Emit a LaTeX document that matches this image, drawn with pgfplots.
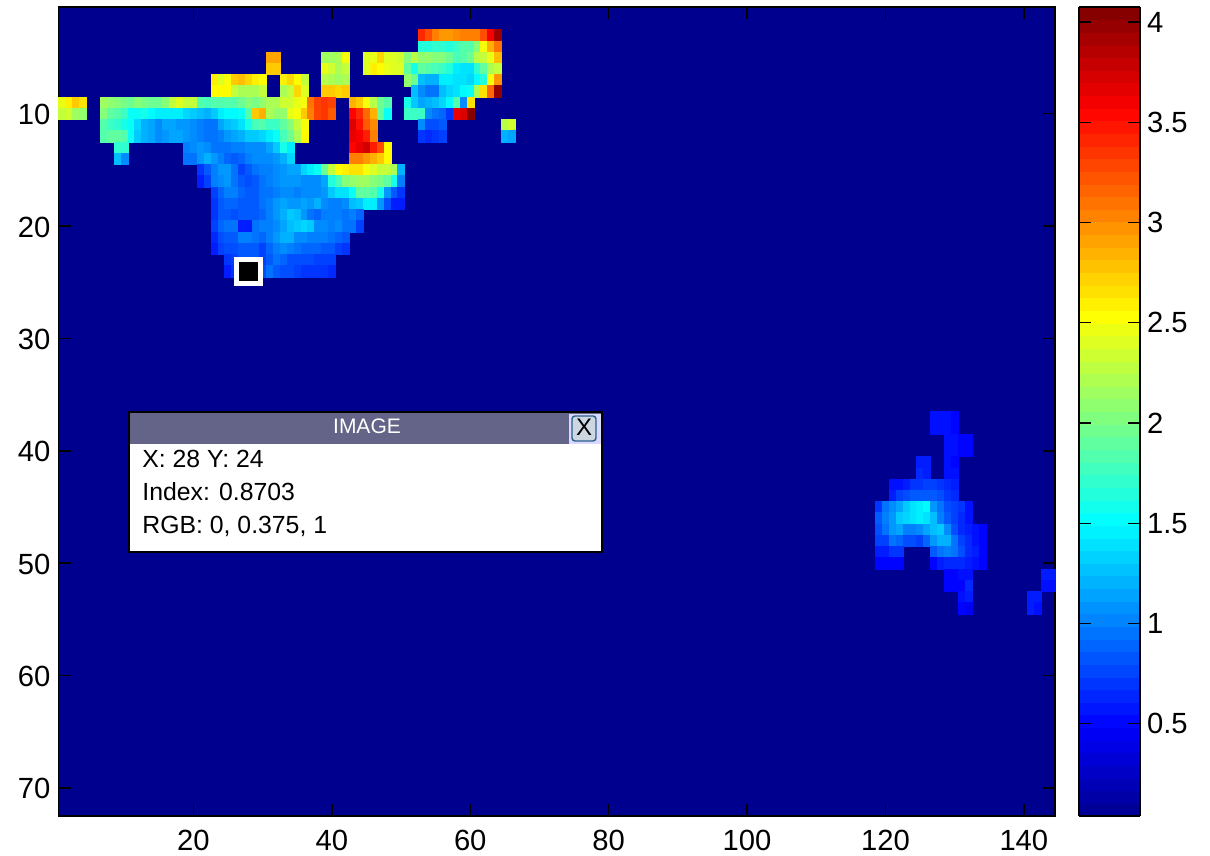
\documentclass[border=0pt]{standalone}
\usepackage{pgfplots}
\usepackage{fontspec}
\setmainfont{Liberation Sans}
\pgfplotsset{compat=1.18}
\newlength\pxu \setlength\pxu{0.5pt}
\pgfplotsset{
  colormap={mj}{rgb(0pt)=(0,0,.5625) rgb(7pt)=(0,0,1) rgb(23pt)=(0,1,1) rgb(39pt)=(1,1,0) rgb(55pt)=(1,0,0) rgb(63pt)=(.5,0,0)},
  cell/.style={scatter, only marks, mark=square*, point meta=explicit,
    scatter/use mapped color={draw=mapped color,fill=mapped color},
    mark size=3.5\pxu, mark options={yscale=1.624,line width=0.1pt}},
}
\newcommand\R[3]{\addplot[cell] table[row sep=crcr,header=false,x expr=\coordindex+#2,y expr=#1,meta index=0]{#3};}
\begin{document}
\begin{tikzpicture}
\path[use as bounding box] (0,0) rectangle (605pt,428pt);
\begin{axis}[
  at={(29.25pt,20pt)}, anchor=south west, scale only axis,
  width=996.5\pxu, height=809\pxu,
  xmin=0.5, xmax=144.5, ymin=0.5, ymax=72.5, y dir=reverse,
  xtick={20,40,...,140}, ytick={10,20,...,70},
  tick align=inside, tick pos=both, major tick length=12\pxu,
  tick style={black,line width=0.7pt},
  axis line style={line width=0.8pt},
  xticklabel pos=bottom, yticklabel pos=left,
  tick label style={font=\fontsize{14.6}{16}\selectfont},
  /pgf/number format/assume math mode=true,
  xticklabel style={yshift=-3.5pt},
  yticklabel style={xshift=-0.5pt,yshift=-0.5pt},
  axis background/.style={fill={rgb,1:red,0;green,0;blue,.5625}},
  colormap name=mj, point meta min=0.04, point meta max=4.075,
  colorbar sampled,
  colorbar style={
    samples=65,
    at={(1.02409,0)}, anchor=south west,
    scale only axis, width=61\pxu, height=809\pxu,
    ytick={0.5,1,...,4},
    tick align=inside, ytick pos=both, yticklabel pos=right,
    major tick length=12\pxu,
    tick style={black,line width=0.7pt},
    axis line style={line width=0.8pt},
    yticklabel style={font=\fontsize{14.6}{16}\selectfont,/pgf/number format/fixed,/pgf/number format/precision=1,/pgf/number format/assume math mode=true},
  },
]
\R{3}{53}{3.4\\3.25\\3.05\\2.95\\2.95\\3.0\\3.05\\3.05\\3.05\\3.25\\3.6\\3.95\\}
\R{4}{53}{1.65\\1.65\\1.7\\1.7\\1.65\\1.75\\1.85\\1.85\\2.05\\2.5\\2.85\\3.1\\}
\R{5}{31}{2.9\\2.9\\}
\R{5}{39}{2.15\\2.15\\2.2\\2.5\\}
\R{5}{45}{2.4\\2.45\\2.7\\2.4\\2.4\\2.35\\2.05\\2.25\\2.1\\2.1\\2.05\\2.05\\1.95\\1.8\\1.85\\1.95\\2.25\\2.3\\2.45\\2.8\\}
\R{6}{31}{2.75\\2.75\\}
\R{6}{39}{2.45\\2.35\\2.2\\2.3\\}
\R{6}{45}{2.4\\2.6\\2.55\\2.45\\2.4\\2.4\\1.9\\1.6\\1.9\\1.85\\1.8\\1.75\\1.65\\1.45\\1.4\\1.4\\1.7\\1.9\\2.2\\2.3\\}
\R{7}{23}{2.6\\2.4\\2.5\\2.75\\2.8\\2.7\\2.6\\2.55\\}
\R{7}{33}{2.6\\2.7\\2.55\\2.3\\}
\R{7}{39}{2.25\\2.2\\2.15\\2.2\\}
\R{7}{51}{2.1\\1.95\\1.25\\1.2\\1.2\\1.45\\1.45\\1.4\\1.4\\1.35\\1.5\\1.65\\2.5\\2.95\\}
\R{8}{23}{2.55\\2.55\\2.55\\2.3\\2.2\\2.2\\2.2\\2.3\\}
\R{8}{33}{2.2\\2.3\\2.7\\2.4\\}
\R{8}{39}{2.75\\2.75\\2.7\\2.75\\}
\R{8}{52}{1.25\\1.05\\.95\\.95\\1.25\\1.35\\1.4\\1.5\\1.55\\2.2\\2.65\\3.15\\4.0\\}
\R{9}{1}{2.45\\2.6\\2.75\\2.65\\}
\R{9}{7}{2.15\\2.1\\2.05\\2.0\\1.95\\2.05\\2.0\\1.95\\1.95\\2.05\\2.3\\2.4\\2.3\\2.3\\1.85\\1.8\\1.85\\1.85\\1.85\\1.85\\1.95\\2.05\\2.0\\2.1\\2.2\\2.2\\2.35\\2.35\\2.45\\2.5\\3.1\\3.3\\3.35\\3.3\\}
\R{9}{43}{2.85\\2.75\\2.5\\2.25\\1.95\\1.85\\}
\R{9}{51}{1.6\\1.3\\1.15\\1.2\\1.25\\1.35\\1.5\\1.85\\1.05\\2.65\\}
\R{10}{1}{2.3\\2.35\\2.15\\2.1\\}
\R{10}{7}{2.05\\1.9\\1.85\\1.75\\1.55\\1.55\\1.6\\1.5\\1.45\\1.45\\1.45\\1.45\\1.35\\1.3\\1.25\\1.2\\1.3\\1.45\\1.5\\1.5\\1.55\\1.85\\2.75\\2.85\\2.2\\2.1\\2.1\\2.45\\2.5\\2.75\\3.05\\3.3\\3.35\\3.2\\}
\R{10}{43}{3.55\\3.4\\3.15\\2.85\\1.9\\1.55\\}
\R{10}{51}{1.75\\1.75\\1.75\\1.05\\.95\\.9\\.7\\3.65\\3.7\\4.05\\}
\R{11}{7}{1.85\\1.75\\1.7\\1.6\\1.55\\1.35\\1.2\\1.15\\1.05\\1.15\\1.15\\1.1\\1.1\\1.05\\1.0\\.95\\.95\\1.15\\1.25\\1.3\\1.4\\1.6\\1.8\\1.85\\1.75\\1.75\\1.9\\2.05\\2.3\\2.5\\}
\R{11}{43}{3.7\\3.5\\3.2\\3.0\\}
\R{11}{53}{1.05\\.8\\.8\\.85\\}
\R{11}{65}{2.25\\2.35\\}
\R{12}{7}{1.85\\1.9\\1.9\\1.85\\1.55\\1.3\\1.2\\1.15\\1.05\\1.1\\1.15\\1.15\\1.1\\1.05\\1.0\\.95\\.95\\1.0\\1.1\\1.15\\1.2\\1.3\\1.3\\1.35\\1.45\\1.55\\1.8\\1.95\\2.2\\2.55\\}
\R{12}{43}{3.65\\3.6\\3.45\\3.05\\}
\R{12}{53}{.7\\.65\\.7\\.75\\}
\R{12}{65}{1.2\\1.15\\}
\R{13}{9}{1.7\\1.7\\}
\R{13}{19}{1.0\\1.05\\1.1\\1.05\\.95\\.95\\.95\\1.0\\1.0\\1.05\\1.05\\1.05\\1.15\\1.3\\1.6\\1.45\\}
\R{13}{43}{3.55\\3.65\\3.75\\3.45\\3.25\\2.55\\}
\R{14}{9}{1.25\\1.05\\}
\R{14}{19}{.95\\.95\\1.1\\1.2\\1.1\\1.0\\.9\\.85\\.9\\1.0\\1.05\\1.05\\1.05\\1.1\\1.2\\1.35\\}
\R{14}{43}{3.05\\3.05\\2.95\\2.85\\2.75\\2.55\\}
\R{15}{21}{.7\\.85\\1.0\\1.1\\1.1\\.95\\.75\\.85\\.95\\1.0\\1.0\\1.05\\1.1\\1.15\\1.15\\1.35\\1.45\\1.55\\1.95\\2.3\\2.55\\2.6\\2.65\\2.65\\2.5\\2.4\\2.3\\2.3\\2.2\\1.2\\}
\R{16}{21}{.6\\.75\\1.0\\1.05\\1.1\\.95\\.85\\.8\\.85\\.95\\1.0\\1.05\\1.1\\1.1\\1.1\\1.05\\1.05\\1.05\\1.15\\1.65\\1.8\\2.05\\2.1\\2.15\\2.15\\2.05\\2.0\\1.9\\1.6\\1.0\\}
\R{17}{23}{.75\\.9\\1.0\\1.0\\.9\\.85\\.85\\.95\\.95\\1.0\\1.05\\1.05\\1.0\\1.05\\1.05\\1.05\\1.1\\1.3\\1.4\\1.4\\1.55\\1.9\\1.9\\1.85\\1.6\\1.1\\.85\\.7\\}
\R{18}{23}{.7\\.85\\.9\\.9\\.85\\.85\\.85\\.95\\1.0\\1.1\\1.15\\1.1\\1.1\\1.15\\1.1\\1.2\\1.05\\1.0\\1.0\\1.05\\1.25\\1.3\\1.45\\1.45\\1.1\\.8\\.6\\.6\\}
\R{19}{23}{.7\\.85\\.85\\.8\\.85\\.85\\.85\\.9\\1.0\\1.1\\1.2\\1.3\\1.25\\1.1\\.95\\.9\\1.0\\1.0\\1.0\\.95\\1.0\\.9\\}
\R{20}{23}{.75\\.9\\.95\\.95\\.6\\.6\\.95\\1.0\\1.0\\1.05\\1.15\\1.25\\1.3\\1.35\\1.3\\1.05\\1.05\\1.0\\1.05\\.95\\.95\\.75\\}
\R{21}{23}{.65\\.8\\.85\\.85\\1.0\\1.0\\.95\\.9\\1.0\\1.1\\1.2\\1.2\\1.05\\1.05\\1.0\\1.0\\1.0\\.95\\.9\\.85\\}
\R{22}{23}{.6\\.75\\.8\\.8\\.85\\.85\\.85\\.75\\.9\\1.0\\1.05\\1.0\\.95\\.9\\.9\\.9\\.85\\.85\\.75\\.7\\}
\R{23}{25}{.7\\.75\\.85\\.85\\.85\\.75\\.85\\.95\\.9\\.8\\.8\\.8\\.8\\.75\\.75\\.75\\}
\R{24}{25}{.6\\.7\\.87\\.87\\.87\\.8\\.95\\.85\\.8\\.8\\.75\\.7\\.7\\.7\\.7\\.65\\}
% right-hand blob
\R{37}{127}{.55\\.55\\.55\\.5\\}
\R{38}{127}{.55\\.55\\.55\\.5\\}
\R{39}{129}{.55\\.55\\.5\\.5\\}
\R{40}{129}{.55\\.55\\.5\\.5\\}
\R{41}{125}{.6\\.6\\}
\R{41}{129}{.55\\.5\\}
\R{42}{125}{.65\\.6\\}
\R{42}{129}{.55\\.55\\}
\R{43}{121}{.55\\.55\\.6\\.7\\.7\\.75\\.75\\.7\\.65\\.6\\}
\R{44}{121}{.6\\.75\\.8\\.85\\.85\\.85\\.85\\.8\\.7\\.65\\}
\R{45}{119}{.7\\.95\\1.05\\1.15\\1.3\\1.4\\1.45\\1.5\\1.1\\.95\\.8\\.75\\.7\\.55\\}
\R{46}{119}{.85\\1.0\\1.1\\1.3\\1.35\\1.4\\1.45\\1.4\\1.25\\1.0\\.85\\.75\\.65\\.55\\}
\R{47}{119}{.8\\.95\\1.1\\1.15\\1.0\\1.0\\1.05\\1.15\\1.25\\1.3\\1.05\\.8\\.65\\.6\\.55\\.5\\}
\R{48}{119}{.75\\.75\\.95\\.9\\.8\\.8\\.75\\.9\\1.1\\1.2\\1.2\\.95\\.75\\.65\\.55\\.5\\}
\R{49}{119}{.6\\.6\\.7\\.7\\}
\R{49}{127}{.85\\.95\\1.0\\.95\\.8\\.65\\.6\\.5\\}
\R{50}{119}{.5\\.5\\.5\\.5\\}
\R{50}{127}{.5\\.6\\.65\\.65\\.65\\.6\\.55\\.5\\}
\R{51}{129}{.5\\.5\\.55\\.55\\}
\R{51}{143}{.6\\.6\\}
\R{52}{129}{.5\\.5\\.5\\.65\\}
\R{52}{143}{.55\\.55\\}
\R{53}{131}{.55\\.6\\}
\R{53}{141}{.6\\.6\\}
\R{54}{131}{.5\\.45\\}
\R{54}{141}{.6\\.55\\}
\addplot[only marks, mark=square*, mark size=12\pxu, mark options={draw=white,fill=black,line width=5\pxu}] coordinates {(28,24)};
\end{axis}
\begin{scope}[x=0.5pt,y=-0.5pt,yshift=428pt]
  \fill[white] (129,412) rectangle (602,552);
  \fill[fill={rgb,255:red,100;green,100;blue,136}] (129,412) rectangle (602,444);
  \draw[black,line width=0.7pt] (129,412) -- (602,412) -- (602,552) -- (129,552) -- cycle;
  \fill[white!85!blue] (569,414) rectangle (601,444);
  \draw[draw={rgb,255:red,40;green,95;blue,140},fill={rgb,255:red,205;green,215;blue,225},line width=0.7pt,rounded corners=1.5pt] (572,416) rectangle (596,441);
  \node[anchor=base,inner sep=0pt,font=\fontsize{12}{14}\selectfont] at (584,436) {X};
  \node[anchor=base,inner sep=0pt,text=white,font=\fontsize{10.5}{12}\selectfont] at (367,434) {IMAGE};
  \node[anchor=base west,inner sep=0pt,font=\fontsize{12.4}{14}\selectfont] at (142,468) {X: 28 Y: 24};
  \node[anchor=base west,inner sep=0pt,font=\fontsize{12.4}{14}\selectfont] at (142,501) {Index: 0.8703};
  \node[anchor=base west,inner sep=0pt,font=\fontsize{12.4}{14}\selectfont] at (142,534) {RGB: 0, 0.375, 1};
\end{scope}
\end{tikzpicture}
\end{document}
